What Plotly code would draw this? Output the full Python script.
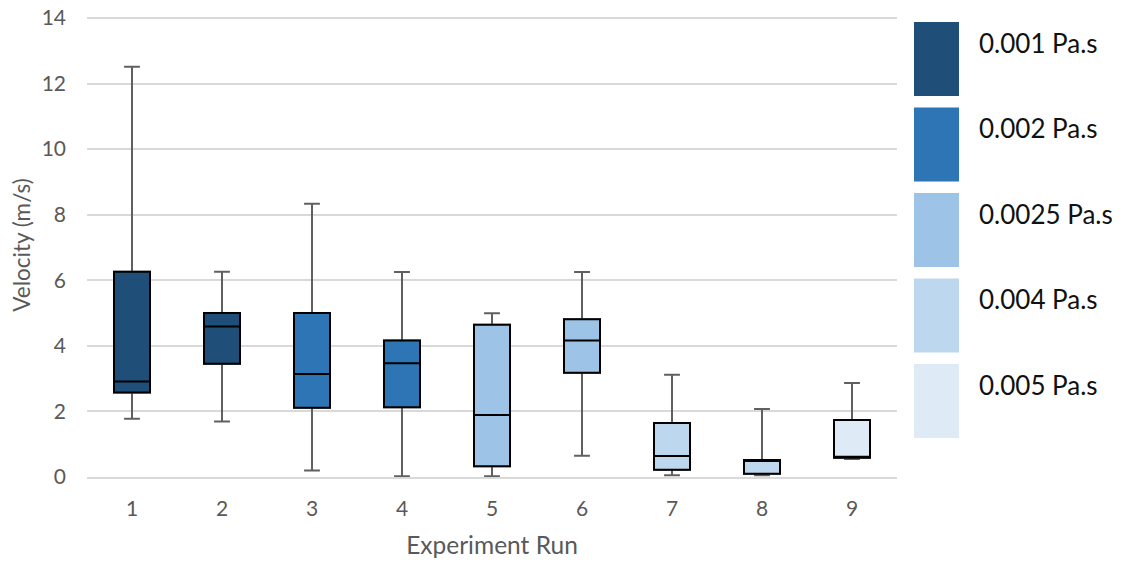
import plotly.graph_objects as go

# ---- data ----
runs = [1, 2, 3, 4, 5, 6, 7, 8, 9]
viscosity = ["0.001 Pa.s", "0.001 Pa.s", "0.002 Pa.s", "0.002 Pa.s", "0.0025 Pa.s",
             "0.0025 Pa.s", "0.004 Pa.s", "0.004 Pa.s", "0.005 Pa.s"]
v_min = [1.78, 1.69, 0.20, 0.02, 0.02, 0.65, 0.05, 0.05, 0.55]
v_q1 = [2.58, 3.45, 2.11, 2.13, 0.33, 3.18, 0.22, 0.10, 0.59]
v_median = [2.91, 4.59, 3.14, 3.47, 1.89, 4.16, 0.64, 0.52, 0.59]
v_q3 = [6.26, 5.00, 5.00, 4.16, 4.64, 4.81, 1.65, 0.52, 1.74]
v_max = [12.51, 6.26, 8.33, 6.25, 4.99, 6.25, 3.12, 2.07, 2.87]

legend_labels = ["0.001 Pa.s", "0.002 Pa.s", "0.0025 Pa.s", "0.004 Pa.s", "0.005 Pa.s"]
legend_colors = ["#1F4E79", "#2E75B6", "#9DC3E6", "#BDD7EE", "#DEEBF7"]
color_of = dict(zip(legend_labels, legend_colors))

FONT = "Lato, Carlito, 'Open Sans', sans-serif"

fig = go.Figure()
for i, r in enumerate(runs):
    col = color_of[viscosity[i]]
    # whiskers layer (gray)
    fig.add_trace(go.Box(
        x=[r], q1=[v_q1[i]], median=[v_median[i]], q3=[v_q3[i]],
        lowerfence=[v_min[i]], upperfence=[v_max[i]],
        width=0.4, whiskerwidth=0.44, fillcolor=col,
        line=dict(color="#606060", width=2), showlegend=False,
        hoverinfo="skip"))
    # box layer (black outline)
    fig.add_trace(go.Box(
        x=[r], q1=[v_q1[i]], median=[v_median[i]], q3=[v_q3[i]],
        lowerfence=[v_q1[i]], upperfence=[v_q3[i]],
        width=0.4, whiskerwidth=0, fillcolor=col,
        line=dict(color="#000000", width=2), showlegend=False))

# target plot-area geometry in pixels (page body margin removed below)
Y_TOP = 14.15
L, R, B = 87, 897, 477
T = B - (B - 18) * Y_TOP / 14.0   # so that 14 lands at y=18
W, H = 1125, 564

def px_x(x):
    return (x - L) / (R - L)

def px_y(y):
    return (B - y) / (B - T)

shapes = []
annotations = []
for k, (lab, col) in enumerate(zip(legend_labels, legend_colors)):
    top = 22 + k * 85.5
    shapes.append(dict(type="rect", xref="paper", yref="paper",
                       x0=px_x(914), x1=px_x(959), y0=px_y(top + 74), y1=px_y(top),
                       fillcolor=col, line=dict(width=0), layer="above"))
    annotations.append(dict(xref="paper", yref="paper", x=px_x(977), y=px_y(top + 21),
                            xanchor="left", yanchor="middle", text=lab, showarrow=False,
                            font=dict(family=FONT, size=26, color="#111111")))

fig.update_layout(
    width=W, height=H,
    margin=dict(l=L, r=W - R, t=T, b=H - B, autoexpand=False),
    paper_bgcolor="white", plot_bgcolor="white",
    boxmode="overlay",
    shapes=shapes, annotations=annotations,
    font=dict(family=FONT, color="#595959"),
    xaxis=dict(range=[0.5, 9.5], tickvals=runs, ticktext=[str(r) for r in runs],
               showgrid=False, zeroline=False, showline=True, linecolor="#D9D9D9",
               linewidth=1.5, ticks="", ticklabelstandoff=12, automargin=False,
               tickfont=dict(size=21, color="#595959"),
               title=dict(text="Experiment Run", font=dict(size=24.5, color="#595959"),
                          standoff=18)),
    yaxis=dict(range=[0, Y_TOP], dtick=2, tick0=0, showgrid=True, gridcolor="#D9D9D9",
               gridwidth=1.5, zeroline=False, showline=False, ticks="",
               ticklabelstandoff=20, automargin=False, ticklabeloverflow="allow",
               tickfont=dict(size=21, color="#595959"),
               title=dict(text="Velocity (m/s)", font=dict(size=22.5, color="#595959"),
                          standoff=4)),
)

fig.write_html("out.html", config={"displayModeBar": False},
               post_script="document.body.style.margin='0';")
